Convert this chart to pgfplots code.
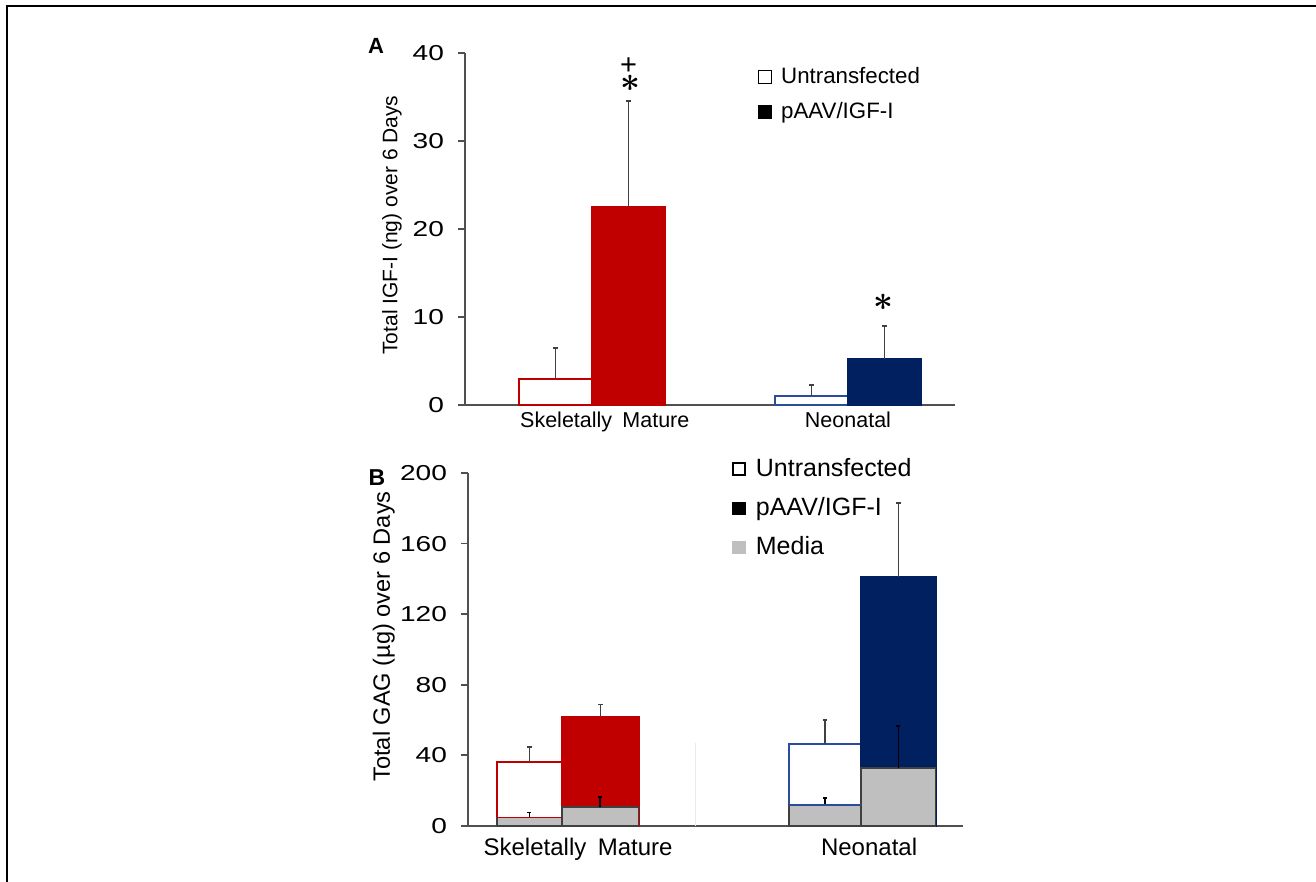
\documentclass[border=0pt]{standalone}
\usepackage{pgfplots}
\pgfplotsset{compat=1.18}
\usepackage{graphicx}
\usepackage{fontspec}
\setmainfont{Liberation Sans}
\newcommand{\widenum}[1]{\scalebox{1.3}[1]{#1}}
\definecolor{barred}{HTML}{C00000}
\definecolor{barblue}{HTML}{002060}
\definecolor{lineblue}{HTML}{2B4C9C}
\definecolor{mediagray}{HTML}{BFBFBF}
\definecolor{axisgray}{HTML}{505050}
\definecolor{errgray}{HTML}{404040}
\pgfplotsset{
  panel/.style={
    scale only axis, clip=false,
    axis x line*=bottom, axis y line*=left,
    axis line style={axisgray, line width=0.9pt},
    ybar, bar shift=0pt, ymin=0,
    xtick style={draw=none},
    ytick style={axisgray, line width=0.9pt},
    tick align=outside,
    major tick length=3.5pt,
    /pgf/number format/assume math mode=true,
    yticklabel={\widenum{\pgfmathprintnumber{\tick}}},
    yticklabel style={font=\fontsize{10.8}{12}\selectfont, text=black, xshift=-3.5pt},
  },
  legA/.style={
    legend image code/.code={\path[draw=none,fill=none] (0pt,-3.25pt) rectangle (9.5pt,3.25pt); \draw[##1] (0pt,-3.25pt) rectangle (6.5pt,3.25pt);},
  },
  legB/.style={
    legend image code/.code={\path[draw=none,fill=none] (0pt,-3pt) rectangle (9.5pt,3pt); \draw[##1] (0pt,-3pt) rectangle (6pt,3pt);},
  },
  eb/.style={error bars/.cd, y dir=plus, y explicit,
    error bar style={errgray, line width=0.6pt},
    error mark options={errgray, line width=0.6pt, mark size=1.1pt, rotate=90}},
  ebk/.style={error bars/.cd, y dir=plus, y explicit,
    error bar style={black, line width=0.9pt},
    error mark options={black, line width=0.9pt, mark size=1pt, rotate=90}},
}
\newcommand{\bigast}[1]{{\fontsize{#1}{#1}\selectfont\boldmath$\ast$}}
\begin{document}
\begin{tikzpicture}
\useasboundingbox (0,0) rectangle (658pt,441pt);
\draw[black, line width=1pt] (3.5pt,0) -- (3.5pt,438pt) -- (658pt,438pt);
\node[font=\bfseries\fontsize{11}{12}\selectfont] at (188pt,418pt) {A};
\node[font=\bfseries\fontsize{11.5}{12}\selectfont] at (188.5pt,202pt) {B};

% ---------------- Panel A ----------------
\begin{axis}[panel, legA,
  at={(232.5pt,238.5pt)}, anchor=south west,
  width=245pt, height=176pt,
  xmin=-0.496, xmax=1.418, ymax=40, ytick={0,10,20,30,40},
  xtick={0.05,1}, xticklabels={Skeletally\hspace{0.2em} Mature, Neonatal},
  xticklabel style={font=\fontsize{10.75}{12}\selectfont, yshift=3.5pt},
  ylabel={Total IGF-I (ng) over 6 Days},
  ylabel style={font=\fontsize{10.5}{12}\selectfont, at={(axis description cs:-0.149,0.511)}, anchor=center},
  legend style={draw=none, fill=none, at={(0.584,0.983)}, anchor=north west,
    font=\fontsize{11.15}{13}\selectfont, cells={anchor=west}, row sep=4pt},
]
\addlegendimage{draw=black, fill=white, line width=0.6pt}
\addlegendentry{Untransfected}
\addlegendimage{draw=black, fill=black, line width=0.6pt}
\addlegendentry{pAAV/IGF-I}
\addplot[forget plot, bar width=0.285, fill=white, draw=barred, line width=0.8pt, eb]
  coordinates {(-0.1425,2.95) +- (0,3.53)};
\addplot[forget plot, bar width=0.285, fill=barred, draw=barred, line width=0.8pt, eb]
  coordinates {(0.1425,22.5) +- (0,12.05)};
\addplot[forget plot, bar width=0.285, fill=white, draw=lineblue, line width=0.8pt, eb]
  coordinates {(0.8575,1.02) +- (0,1.25)};
\addplot[forget plot, bar width=0.285, fill=barblue, draw=barblue, line width=0.8pt, eb]
  coordinates {(1.1425,5.23) +- (0,3.75)};
\node[inner sep=0pt] at (axis cs:0.150,36.6) {\bigast{18}};
\node[inner sep=0pt, anchor=base, font=\fontsize{14.5}{14.5}\selectfont] at (axis cs:0.143,37.55) {+};
\node[inner sep=0pt] at (axis cs:1.137,11.7) {\bigast{16}};
\end{axis}

% ---------------- Panel B ----------------
\begin{axis}[panel, legB,
  at={(234pt,28pt)}, anchor=south west,
  width=247.5pt, height=176.5pt,
  xmin=-0.314, xmax=1.341, ymax=200, ytick={0,40,80,120,160,200},
  xtick={0.054,1.027}, xticklabels={Skeletally\hspace{0.2em} Mature, Neonatal},
  xticklabel style={font=\fontsize{12}{14}\selectfont, yshift=1pt},
  ylabel={Total GAG (µg) over 6 Days},
  ylabel style={font=\fontsize{11.8}{13}\selectfont, at={(axis description cs:-0.17,0.537)}, anchor=center},
  legend style={draw=none, fill=none, at={(0.521,1.065)}, anchor=north west,
    font=\fontsize{12.5}{14}\selectfont, cells={anchor=west}, row sep=5pt},
]
\addlegendimage{draw=black, fill=white, line width=0.6pt}
\addlegendentry{Untransfected}
\addlegendimage{draw=black, fill=black, line width=0.6pt}
\addlegendentry{pAAV/IGF-I}
\addlegendimage{draw=mediagray, fill=mediagray, line width=0.6pt}
\addlegendentry{Media}
\addplot[sharp plot, forget plot, black!8, line width=0.5pt]
  coordinates {(0.445,0) (0.445,47)};
% totals
\addplot[forget plot, bar width=0.217, fill=white, draw=barred, line width=0.8pt, eb]
  coordinates {(-0.1085,36.3) +- (0,8.5)};
\addplot[forget plot, bar width=0.257, fill=barred, draw=barred, line width=0.8pt, eb]
  coordinates {(0.1285,61.8) +- (0,7.2)};
\addplot[forget plot, bar width=0.241, fill=white, draw=lineblue, line width=0.8pt, eb]
  coordinates {(0.8795,46.5) +- (0,13.5)};
\addplot[forget plot, bar width=0.25, fill=barblue, draw=barblue, line width=0.8pt, eb]
  coordinates {(1.125,141) +- (0,42)};
% media
\addplot[forget plot, bar width=0.217, fill=mediagray, draw=errgray, line width=0.7pt, ebk]
  coordinates {(-0.1085,4.8) +- (0,2.8)};
\addplot[forget plot, bar width=0.257, fill=mediagray, draw=errgray, line width=0.7pt, ebk]
  coordinates {(0.1285,10.8) +- (0,5.6)};
\addplot[forget plot, bar width=0.241, fill=mediagray, draw=errgray, line width=0.7pt, ebk]
  coordinates {(0.8795,11.9) +- (0,4.0)};
\addplot[forget plot, bar width=0.25, fill=mediagray, draw=errgray, line width=0.7pt, ebk]
  coordinates {(1.125,32.9) +- (0,23.7)};
% coloured edge at the top of the media part of the untransfected bars
\addplot[sharp plot, forget plot, barred, line width=0.8pt]
  coordinates {(-0.217,4.8) (0,4.8)};
\addplot[sharp plot, forget plot, lineblue, line width=0.8pt]
  coordinates {(0.759,11.9) (1.0,11.9)};
\end{axis}
\end{tikzpicture}
\end{document}
